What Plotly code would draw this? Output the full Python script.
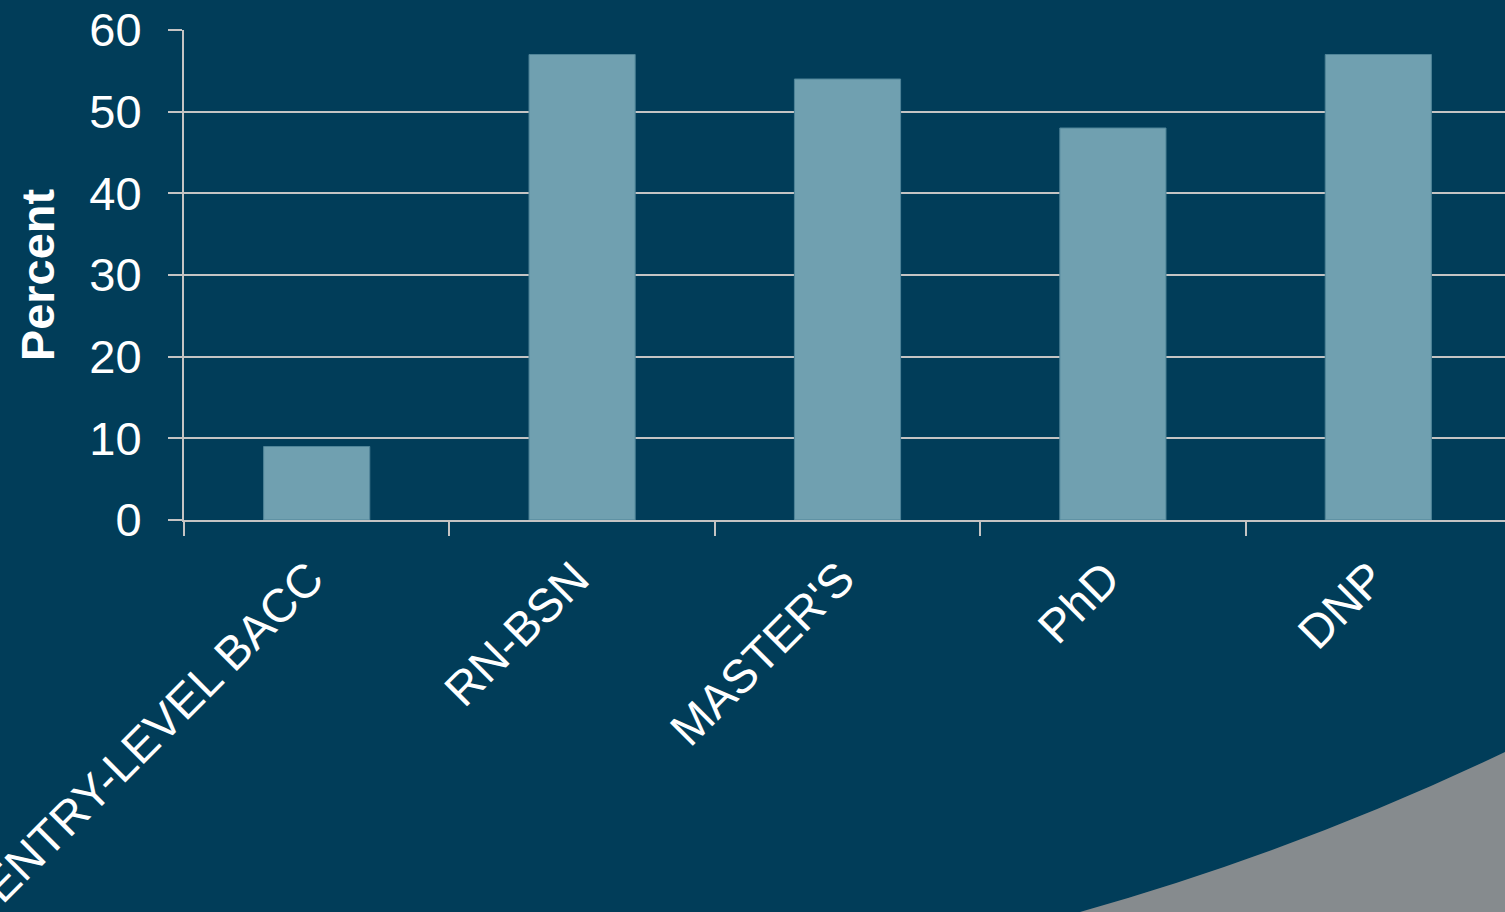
import plotly.graph_objects as go

categories = ["ENTRY-LEVEL BACC", "RN-BSN", "MASTER'S", "PhD", "DNP"]
values = [9, 57, 54, 48, 57]
y_ticks = [0, 10, 20, 30, 40, 50, 60]

BG = "#013D59"
BAR = "#70A0B0"
GRID = "#C4C4C4"
FONT = "Liberation Sans, Arial, sans-serif"

W, H = 1505, 912
L, T, B = 184, 30, 392
pw = W - L
ph = H - T - B

fig = go.Figure()
fig.add_trace(go.Bar(
    x=categories, y=values, width=0.4,
    marker=dict(color=BAR, line=dict(color="#4F8498", width=1)),
))

def px2paper(x, y):
    return ((x - L) / pw, (H - B - y) / ph)

p0 = px2paper(1080, 912)
c = px2paper(1300, 850)
p2 = px2paper(1505, 752)
p3 = px2paper(1505, 912)
path = (f"M {p0[0]},{p0[1]} Q {c[0]},{c[1]} {p2[0]},{p2[1]} "
        f"L {p3[0]},{p3[1]} Z")
fig.add_shape(type="path", xref="paper", yref="paper", path=path,
              fillcolor="#868b8e", line=dict(width=0), layer="below")

fig.update_layout(
    width=W, height=H,
    margin=dict(l=L, r=0, t=T, b=B, autoexpand=False),
    paper_bgcolor=BG, plot_bgcolor=BG,
    showlegend=False,
    font=dict(family=FONT, color="white", size=46),
    bargap=0.6,
)
fig.update_xaxes(
    range=[-0.5, 4.5 - 6 / 265.5],
    tickangle=-45, tickfont=dict(size=47, color="white", family=FONT),
    showline=True, linecolor=GRID, linewidth=2,
    ticks="outside", tickson="boundaries", ticklen=14, tickcolor=GRID, tickwidth=2,
    showgrid=False, automargin=False,
    ticklabelstandoff=10, ticklabelshift=-7,
)
fig.update_yaxes(
    range=[0, 60], tickvals=y_ticks,
    tickfont=dict(size=47, color="white", family=FONT),
    showline=True, linecolor=GRID, linewidth=2,
    ticks="outside", ticklen=14, tickcolor=GRID, tickwidth=2,
    showgrid=True, gridcolor=GRID, gridwidth=2,
    zeroline=False,
    ticklabelstandoff=17,
    title=dict(text="<b>Percent</b>", font=dict(size=47, color="white", family=FONT), standoff=20),
    automargin=False,
)

fig.write_html(
    "out.html",
    config={"displayModeBar": False},
    post_script="document.body.style.margin='0';document.body.style.background='" + BG + "';",
)
